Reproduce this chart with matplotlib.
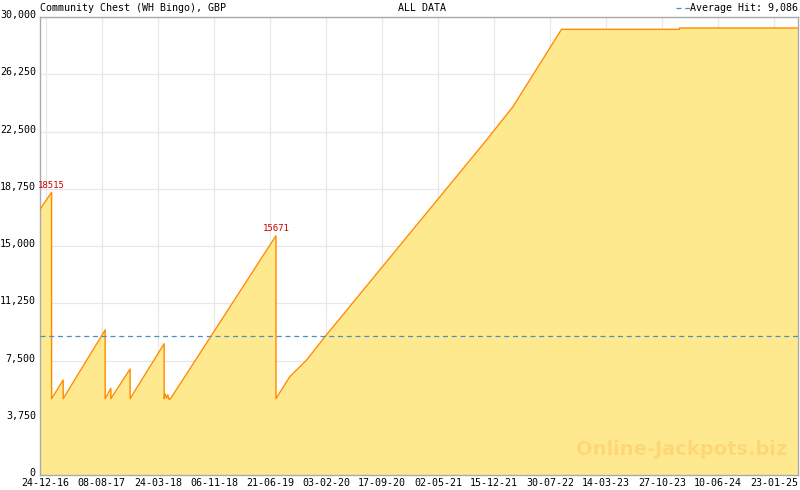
import datetime as dt
import matplotlib
matplotlib.use("Agg")
import matplotlib.pyplot as plt
import matplotlib.dates as mdates
import matplotlib.transforms as mtransforms
from matplotlib.ticker import FuncFormatter, MultipleLocator, FixedLocator

# jackpot history: vertices (drops are two points on one date)
dates = [
    "2016-12-01", "2017-01-17", "2017-01-17", "2017-03-05", "2017-03-05",
    "2017-08-22", "2017-08-22", "2017-09-14", "2017-09-14", "2017-12-01",
    "2017-12-01", "2018-04-18", "2018-04-18", "2018-04-22", "2018-04-28",
    "2018-05-03", "2018-05-08", "2018-05-14", "2019-07-15", "2019-07-15",
    "2019-09-09", "2019-11-16", "2020-02-04", "2021-11-14", "2022-03-01",
    "2022-05-08", "2022-09-14", "2024-01-05", "2024-01-05", "2025-04-28",
]
values = [
    17400, 18515, 5000, 6220, 5000,
    9500, 5000, 5680, 5000, 6940,
    5000, 8600, 5000, 5300, 5050,
    5250, 4950, 5000, 15671, 5000,
    6440, 7530, 9170, 21940, 24120,
    25870, 29190, 29190, 29280, 29280,
]
peaks = [("2017-01-17", 18515), ("2019-07-15", 15671)]
average_hit = 9086

tick_labels = ["24-12-16", "08-08-17", "24-03-18", "06-11-18", "21-06-19",
               "03-02-20", "17-09-20", "02-05-21", "15-12-21", "30-07-22",
               "14-03-23", "27-10-23", "10-06-24", "23-01-25"]
y_ticks = [0, 3750, 7500, 11250, 15000, 18750, 22500, 26250, 30000]

x = [dt.datetime.strptime(d, "%Y-%m-%d") for d in dates]
xt = [dt.datetime.strptime(t, "%d-%m-%y") for t in tick_labels]

plt.rcParams["font.family"] = ["DejaVu Sans Mono"]
fig = plt.figure(figsize=(8, 4.9), dpi=100)
ax = fig.add_axes([0.05, 0.0306, 0.9475, 0.9347])

line_col = "#ff8c00"
ax.fill_between(x, values, 0, color="#ffe98f", lw=0, zorder=2)
ax.plot(x, values, color=line_col, lw=1.0, zorder=3)
ax.axhline(average_hit, color="#4a90c0", lw=0.9, ls=(0, (4, 3)), zorder=4)

for d, v in peaks:
    ax.annotate(str(v), (dt.datetime.strptime(d, "%Y-%m-%d"), v),
                xytext=(0, 2), textcoords="offset points", ha="center",
                va="bottom", color="#cc0000", fontsize=6.5, zorder=5)

ax.set_xlim(dt.datetime(2016, 12, 1), dt.datetime(2025, 4, 29))
ax.set_ylim(0, 30000)

ax.xaxis.set_major_locator(FixedLocator(mdates.date2num(xt)))
ax.set_xticklabels(tick_labels)
step = (mdates.date2num(xt[1]) - mdates.date2num(xt[0])) / 7
ax.xaxis.set_minor_locator(MultipleLocator(step, offset=mdates.date2num(xt[0]) % step))
ax.set_yticks(y_ticks)
ax.yaxis.set_major_formatter(FuncFormatter(lambda v, p: f"{int(v):,}"))

ax.tick_params(axis="x", which="major", direction="in", length=4, width=0.8,
               color="#aaaaaa", labelsize=7.2, pad=2)
ax.tick_params(axis="x", which="minor", direction="in", length=2.5, width=0.8,
               color="#aaaaaa")
ax.tick_params(axis="y", length=0, labelsize=7.2, pad=3)

# y labels sit a couple of pixels above their gridlines
shift = mtransforms.ScaledTranslation(0, 3 / 100, fig.dpi_scale_trans)
for lab in ax.get_yticklabels():
    lab.set_transform(lab.get_transform() + shift)

ax.grid(True, color="#e8e8e8", lw=0.9, zorder=0)
ax.set_axisbelow(True)
for s in ax.spines.values():
    s.set_color("#aaaaaa")
    s.set_linewidth(1.0)

fig.text(0.05, 0.983, "Community Chest (WH Bingo), GBP", fontsize=7.2, va="center", ha="left")
fig.text(0.527, 0.983, "ALL DATA", fontsize=7.2, va="center", ha="center")
fig.text(0.9975, 0.983, "Average Hit: 9,086", fontsize=7.2, va="center", ha="right")
fig.lines.append(plt.Line2D([0.845, 0.862], [0.983, 0.983], transform=fig.transFigure,
                            color="#4a90c0", lw=0.9, ls=(0, (4, 3))))

ax.text(0.985, 0.035, "Online-Jackpots.biz", transform=ax.transAxes, ha="right",
        va="bottom", fontsize=14, fontweight="bold", family="DejaVu Sans",
        color="#ffc864", alpha=0.55, zorder=6)

fig.savefig("out.png", dpi=100)
